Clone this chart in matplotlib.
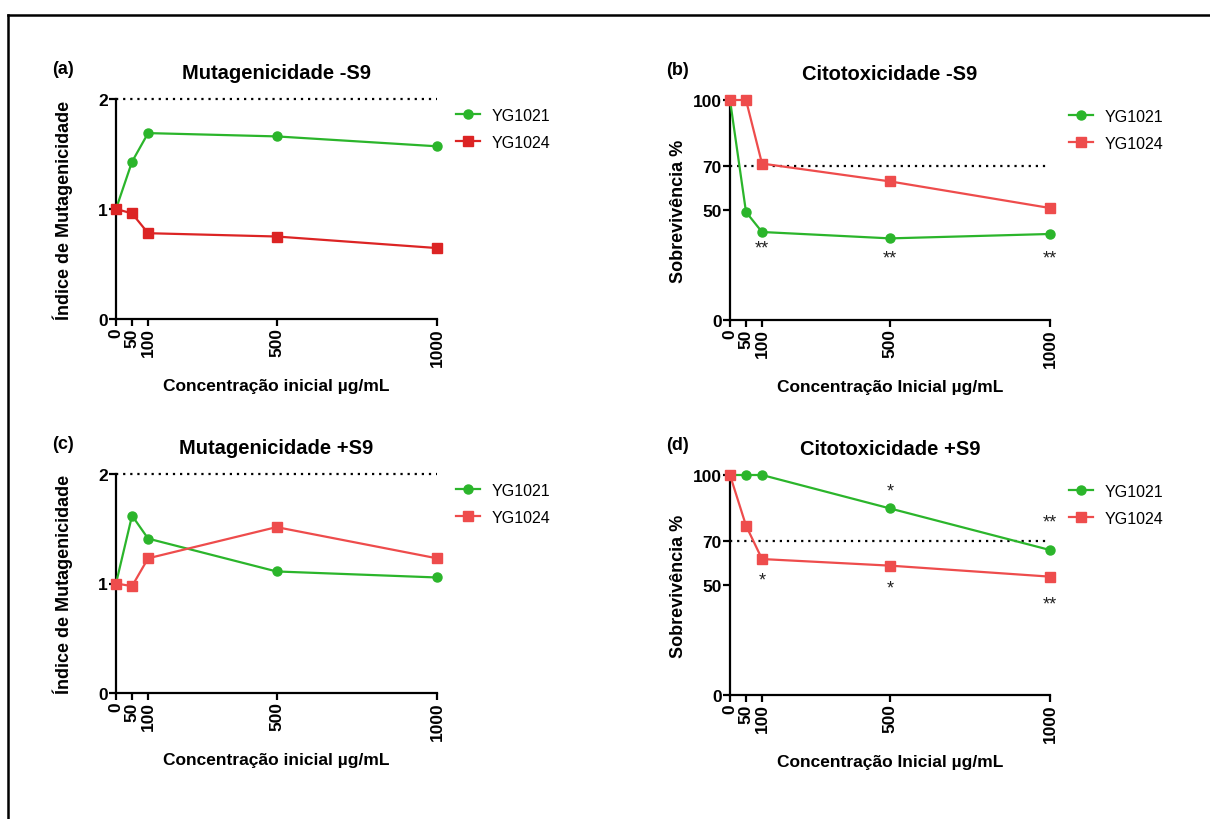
import matplotlib
matplotlib.use("Agg")
import matplotlib.pyplot as plt
from matplotlib.lines import Line2D

plt.rcParams['font.family'] = ['Liberation Sans', 'DejaVu Sans']

# doses used in every panel
doses = [0, 50, 100, 500, 1000]
dose_labels = ['0', '50', '100', '500', '1000']
strains = ['YG1021', 'YG1024']

# (a) mutagenicity without S9
mut_s9_minus_1021 = [1.0, 1.43, 1.69, 1.66, 1.57]
mut_s9_minus_1024 = [1.0, 0.96, 0.78, 0.75, 0.645]

# (b) cytotoxicity without S9
cit_s9_minus_1021 = [100, 49.1, 40.0, 37.1, 39.1]
cit_s9_minus_1024 = [100, 100, 71.1, 63.0, 50.9]
cit_s9_minus_sig = [(100, 32.6, '**'), (500, 28.0, '**'), (1000, 28.0, '**')]

# (c) mutagenicity with S9
mut_s9_plus_1021 = [1.0, 1.62, 1.41, 1.11, 1.055]
mut_s9_plus_1024 = [1.0, 0.976, 1.23, 1.515, 1.23]

# (d) cytotoxicity with S9
cit_s9_plus_1021 = [100, 100, 100, 84.8, 65.9]
cit_s9_plus_1024 = [100, 77.0, 61.8, 58.8, 53.8]
cit_s9_plus_sig = [(500, 92.9, '*'), (1000, 78.5, '**'),
                   (100, 52.3, '*'), (500, 48.5, '*'), (1000, 41.4, '**')]

mut_ticks = [0, 1, 2]
cit_ticks = [0, 50, 70, 100]

GREEN = '#2bb52b'
RED_DARK = '#dc2424'
RED = '#ee4c4c'

W, H = 1210, 820
fig = plt.figure(figsize=(W / 100, H / 100), dpi=100)


def px_axes(left, right, top, bottom):
    return fig.add_axes([left / W, 1 - bottom / H, (right - left) / W, (bottom - top) / H])


def panel(box, tag, title, xlabel, ylabel, y1, y2, red, yticks, ymax, ref, sig):
    ax = px_axes(*box)
    ax.plot(doses, y1, color=GREEN, lw=1.6, marker='o', ms=6.5, clip_on=False,
            label=strains[0], zorder=3)
    ax.plot(doses, y2, color=red, lw=1.6, marker='s', ms=7, clip_on=False,
            label=strains[1], zorder=3)
    ax.axhline(ref, color='black', lw=1.6, ls=(0, (1, 2.2)), zorder=2, clip_on=False)
    for x, y, s in sig:
        ax.text(x, y, s, ha='center', va='center', fontsize=13, color='#222222')

    ax.set_xlim(0, 1000)
    ax.set_ylim(0, ymax)
    ax.set_xticks(doses)
    ax.set_xticklabels(dose_labels, rotation=90, fontweight='bold', fontsize=12.5)
    ax.set_yticks(yticks)
    ax.set_yticklabels([str(t) for t in yticks], fontweight='bold', fontsize=12.5)
    for side in ('top', 'right'):
        ax.spines[side].set_visible(False)
    for side in ('left', 'bottom'):
        ax.spines[side].set_linewidth(1.6)
    ax.tick_params(direction='out', length=5, width=1.6, pad=1)
    ax.set_xlabel(xlabel, fontweight='bold', fontsize=12.5, labelpad=9)
    ax.set_ylabel(ylabel, fontweight='bold', fontsize=13)
    ax.yaxis.set_label_coords(-0.135, 0.5)
    ax.set_title(title, fontweight='bold', fontsize=14.5, pad=15)
    ax.text(-0.2, 1.1, tag, transform=ax.transAxes, fontweight='bold',
            fontsize=13, ha='left', va='bottom')
    ax.legend(loc='upper left', bbox_to_anchor=(1.04, 0.99), frameon=False,
              fontsize=11.5, handlelength=1.5, handletextpad=0.7,
              labelspacing=0.75, borderaxespad=0)
    return ax


panel((116, 437, 100, 320), '(a)', 'Mutagenicidade -S9',
      'Concentração inicial µg/mL', 'Índice de Mutagenicidade',
      mut_s9_minus_1021, mut_s9_minus_1024, RED_DARK, mut_ticks, 2, 2, [])
panel((730, 1050, 101, 321), '(b)', 'Citotoxicidade -S9',
      'Concentração Inicial µg/mL', 'Sobrevivência %',
      cit_s9_minus_1021, cit_s9_minus_1024, RED, cit_ticks, 100, 70, cit_s9_minus_sig)
panel((116, 437, 475, 694), '(c)', 'Mutagenicidade +S9',
      'Concentração inicial µg/mL', 'Índice de Mutagenicidade',
      mut_s9_plus_1021, mut_s9_plus_1024, RED, mut_ticks, 2, 2, [])
panel((730, 1050, 476, 696), '(d)', 'Citotoxicidade +S9',
      'Concentração Inicial µg/mL', 'Sobrevivência %',
      cit_s9_plus_1021, cit_s9_plus_1024, RED, cit_ticks, 100, 70, cit_s9_plus_sig)

# frame lines along the top and left edges
fig.add_artist(Line2D([8 / W, 1], [1 - 16 / H, 1 - 16 / H], color='black', lw=1.8))
fig.add_artist(Line2D([8 / W, 8 / W], [0, 1 - 16 / H], color='black', lw=1.8))

fig.savefig('out.png', dpi=100, facecolor='white')
